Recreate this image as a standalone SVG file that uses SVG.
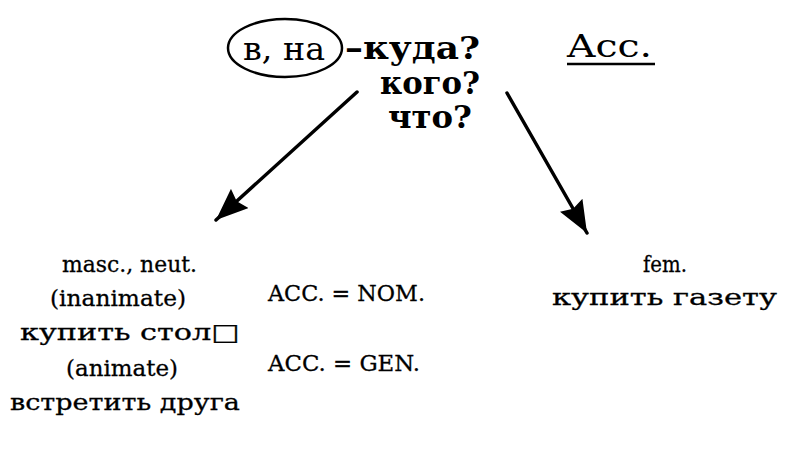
<svg xmlns="http://www.w3.org/2000/svg" width="797" height="460" viewBox="0 0 797 460">
<style>
.t{font-family:"DejaVu Serif","Liberation Serif",serif;fill:#000}
.h{font-size:32px}
.q{font-size:31px;font-weight:bold}
.s{font-size:23px;stroke:#000;stroke-width:0.3}
.ln{stroke:#000;stroke-width:3.5;fill:none;stroke-linecap:round}
</style>
<defs>
<marker id="ah" viewBox="0 0 32 26" refX="32" refY="13" markerWidth="32" markerHeight="26" markerUnits="userSpaceOnUse" orient="auto">
<path d="M0,0 L32,13 L0,26 L4,13 z" fill="#000"/>
</marker>
</defs>
<rect width="797" height="460" fill="#fff"/>
<g id="prep">
<ellipse cx="285" cy="48" rx="57" ry="29" fill="none" stroke="#000" stroke-width="2.5"/>
<text class="t h" x="243" y="60" textLength="82" lengthAdjust="spacingAndGlyphs">в, на</text>
</g>
<g id="questions">
<text class="t q" x="345" y="59" textLength="135" lengthAdjust="spacingAndGlyphs">–куда?</text>
<text class="t q" x="380" y="94" textLength="100" lengthAdjust="spacingAndGlyphs">кого?</text>
<text class="t q" x="388" y="128" textLength="84" lengthAdjust="spacingAndGlyphs">что?</text>
</g>
<g id="case">
<text class="t h" x="567" y="57" textLength="85" lengthAdjust="spacingAndGlyphs">Acc.</text>
<line x1="567" y1="64" x2="655" y2="64" stroke="#000" stroke-width="2.5"/>
</g>
<g id="connectors">
<line class="ln" x1="357" y1="92" x2="216" y2="220" marker-end="url(#ah)"/>
<line class="ln" x1="507" y1="93" x2="587" y2="233" marker-end="url(#ah)"/>
</g>
<g id="masc">
<text class="t s" x="62" y="272" textLength="135" lengthAdjust="spacingAndGlyphs">masc., neut.</text>
<text class="t s" x="50" y="306" textLength="136" lengthAdjust="spacingAndGlyphs">(inanimate)</text>
<text class="t s" x="20" y="340" textLength="220" lengthAdjust="spacingAndGlyphs">купить стол□</text>
<text class="t s" x="66" y="376" textLength="112" lengthAdjust="spacingAndGlyphs">(animate)</text>
<text class="t s" x="10" y="410" textLength="230" lengthAdjust="spacingAndGlyphs">встретить друга</text>
</g>
<g id="rules">
<text class="t s" x="268" y="301" textLength="157" lengthAdjust="spacingAndGlyphs">ACC. = NOM.</text>
<text class="t s" x="268" y="371" textLength="152" lengthAdjust="spacingAndGlyphs">ACC. = GEN.</text>
</g>
<g id="fem">
<text class="t s" x="643" y="272" textLength="44" lengthAdjust="spacingAndGlyphs">fem.</text>
<text class="t s" x="552" y="305" textLength="225" lengthAdjust="spacingAndGlyphs">купить газету</text>
</g>
</svg>
